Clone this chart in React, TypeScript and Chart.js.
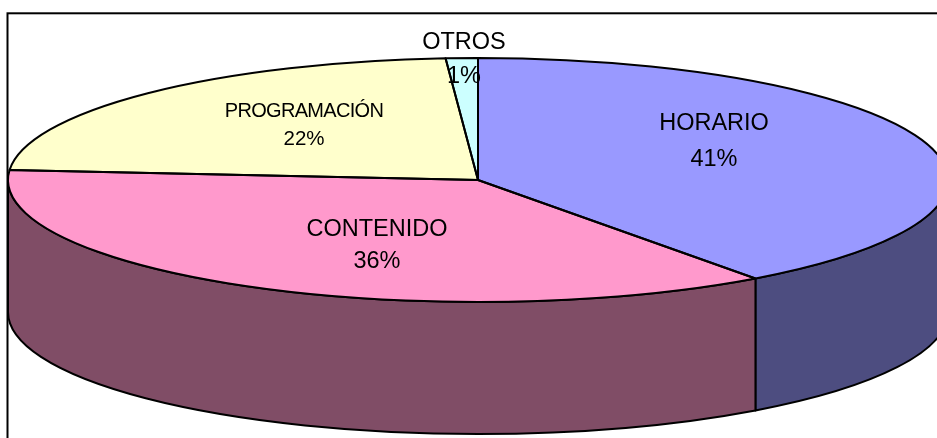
import React, { useEffect, useRef } from "react";
import { Chart, registerables } from "chart.js";

Chart.register(...registerables);

const categories = ["HORARIO", "CONTENIDO", "PROGRAMACIÓN", "OTROS"];
const percentLabels = ["41%", "36%", "22%", "1%"];
// Slice sizes as they appear in the drawn (perspective) pie
const sliceValues = [39.95, 36.35, 22.6, 1.1];
const topColors = ["#9999FF", "#FF99CC", "#FFFFCC", "#CCFFFF"];
const sideColors = ["#4D4D80", "#804D66", "#808066", "#668080"];

const WIDTH = 937;
const HEIGHT = 438;
const CENTER_X = 478;
const CENTER_Y = 180;
const RADIUS_X = 470;
const RADIUS_Y = 122;
const DEPTH = 132;
const LINE = 2;

const labelLayout = [
  { x: 714, nameY: 124, pctY: 160, size: 23.5, pctSize: 23.5, spacing: 0 },
  { x: 377, nameY: 230, pctY: 262, size: 23.5, pctSize: 23.5, spacing: 0 },
  { x: 304, nameY: 111, pctY: 139, size: 20, pctSize: 20.5, spacing: -0.7 },
  { x: 464, nameY: 43, pctY: 77, size: 23.5, pctSize: 23.5, spacing: 0 },
];

const squash = RADIUS_Y / RADIUS_X;

const pie3d = {
  id: "pie3d",
  beforeDraw(chart: any) {
    const ctx = chart.ctx;
    ctx.save();
    ctx.fillStyle = "#FFFFFF";
    ctx.fillRect(0, 0, WIDTH, HEIGHT);
    ctx.strokeStyle = "#000000";
    ctx.lineWidth = 2;
    ctx.strokeRect(7.5, 13.3, WIDTH + 20, HEIGHT + 20);
    ctx.restore();
  },
  beforeDatasetsDraw(chart: any) {
    const ctx = chart.ctx;
    const arcs = chart.getDatasetMeta(0).data;
    ctx.save();
    ctx.lineWidth = LINE;
    ctx.strokeStyle = "#000000";
    ctx.lineJoin = "round";
    arcs.forEach((arc: any, i: number) => {
      const a = Math.max(arc.startAngle, 0);
      const b = Math.min(arc.endAngle, Math.PI);
      if (b <= a) return;
      const r = arc.outerRadius;
      const ry = r * squash;
      ctx.beginPath();
      ctx.ellipse(arc.x, arc.y, r, ry, 0, a, b);
      ctx.ellipse(arc.x, arc.y + DEPTH, r, ry, 0, b, a, true);
      ctx.closePath();
      ctx.fillStyle = sideColors[i];
      ctx.fill();
      ctx.stroke();
    });
    ctx.restore();
    // squash the library's own arcs into the ellipse of the top face
    const first = arcs[0];
    ctx.save();
    ctx.translate(first.x, first.y);
    ctx.scale(1, squash);
    ctx.translate(-first.x, -first.y);
  },
  afterDatasetsDraw(chart: any) {
    const ctx = chart.ctx;
    ctx.restore();
    const arcs = chart.getDatasetMeta(0).data;
    ctx.save();
    ctx.lineWidth = LINE;
    ctx.strokeStyle = "#000000";
    ctx.lineJoin = "round";
    arcs.forEach((arc: any) => {
      ctx.beginPath();
      ctx.moveTo(arc.x, arc.y);
      ctx.ellipse(arc.x, arc.y, arc.outerRadius, arc.outerRadius * squash, 0, arc.startAngle, arc.endAngle);
      ctx.closePath();
      ctx.stroke();
    });
    ctx.fillStyle = "#000000";
    ctx.textAlign = "center";
    ctx.textBaseline = "middle";
    categories.forEach((name, i) => {
      const l = labelLayout[i];
      ctx.font = `${l.size}px "Liberation Sans", Arial, sans-serif`;
      ctx.letterSpacing = `${l.spacing}px`;
      ctx.fillText(name, l.x, l.nameY);
      ctx.letterSpacing = "0px";
      ctx.font = `${l.pctSize}px "Liberation Sans", Arial, sans-serif`;
      ctx.fillText(percentLabels[i], l.x, l.pctY);
    });
    ctx.restore();
  },
};

export default function App() {
  const ref = useRef<HTMLCanvasElement | null>(null);
  useEffect(() => {
    document.body.style.margin = "0";
    document.body.style.background = "#FFFFFF";
    const chart = new Chart(ref.current as HTMLCanvasElement, {
      type: "pie",
      data: {
        labels: categories,
        datasets: [
          {
            data: sliceValues,
            backgroundColor: topColors,
            borderWidth: 0,
            radius: RADIUS_X,
            clip: false,
          } as any,
        ],
      },
      options: {
        responsive: false,
        animation: false,
        layout: {
          padding: {
            left: Math.max(2 * CENTER_X - WIDTH, 0),
            bottom: Math.max(HEIGHT - 2 * CENTER_Y, 0),
          },
        },
        plugins: { legend: { display: false }, tooltip: { enabled: false } },
      },
      plugins: [pie3d],
    } as any);
    return () => chart.destroy();
  }, []);
  return <canvas ref={ref} width={WIDTH} height={HEIGHT} style={{ display: "block" }} />;
}
